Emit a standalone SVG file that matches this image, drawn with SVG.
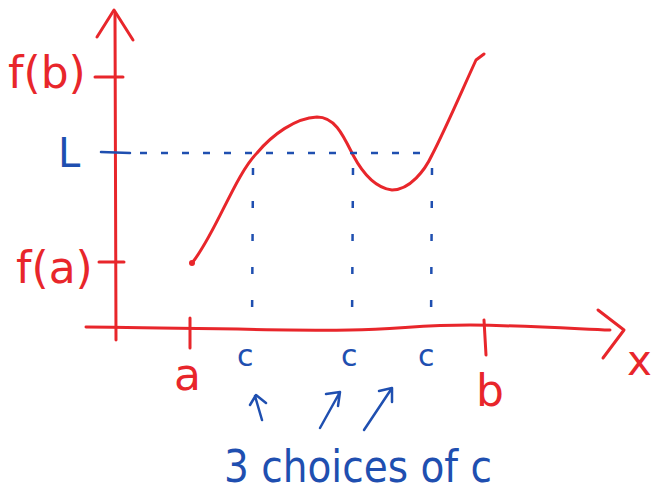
<svg xmlns="http://www.w3.org/2000/svg" width="660" height="492" viewBox="0 0 660 492">
<style>
.r{stroke:#e8262b;fill:none;stroke-width:3;stroke-linecap:round;stroke-linejoin:round}
.b{stroke:#1f4fb0;fill:none;stroke-width:2.5;stroke-linecap:round;stroke-linejoin:round}
.dh{stroke:#1f4fb0;fill:none;stroke-width:2.5;stroke-dasharray:7 14}
.dv{stroke:#1f4fb0;fill:none;stroke-width:2.5;stroke-dasharray:7 26}
.tr{fill:#e8262b;font-family:"DejaVu Sans",sans-serif}
.tb{fill:#1f4fb0;font-family:"DejaVu Sans",sans-serif}
</style>
<rect width="660" height="492" fill="#fff"/>
<g id="axes">
<path class="r" d="M115,14 L116,340"/>
<path class="r" d="M97,37 L114,10 L133,40"/>
<path class="r" d="M86,327 C200,328 300,331 350,330 C400,329 420,325 470,325 C540,326 580,329 610,330"/>
<path class="r" d="M598,310 L624,330 L603,358"/>
<path class="r" d="M95,77 L123,77"/>
<path class="r" d="M99,262 L124,262"/>
<path class="r" d="M190,318 L190,348"/>
<path class="r" d="M484,320 L486,355"/>
<path class="b" d="M101,152 L130,153"/>
</g>
<g id="curve">
<path class="r" d="M192,263 C215,235 235,175 257,153 C272,135 295,118 317,117 C335,117 343,135 353,155 C362,172 375,188 392,190 C410,190 425,170 432,155 C445,130 460,95 476,60 L484,54"/>
<circle cx="192" cy="263" r="3" fill="#e8262b"/>
</g>
<g id="connectors">
<path class="dh" d="M140,153 L432,153"/>
<path class="dv" d="M253,168 L252,327"/>
<path class="dv" d="M353,168 L352,327"/>
<path class="dv" d="M432,168 L431,327"/>
</g>
<g id="labels">
<text class="tr" x="8" y="88" font-size="44">f(b)</text>
<text class="tb" x="58" y="167" font-size="40">L</text>
<text class="tr" x="16" y="283" font-size="44">f(a)</text>
<text class="tr" x="174" y="390" font-size="44">a</text>
<text class="tr" x="476" y="406" font-size="44">b</text>
<text class="tr" x="627" y="375" font-size="42">x</text>
<text class="tb" x="237" y="366" font-size="30">c</text>
<text class="tb" x="341" y="366" font-size="30">c</text>
<text class="tb" x="418" y="366" font-size="30">c</text>
<text class="tb" x="224" y="482" font-size="44" textLength="268" lengthAdjust="spacingAndGlyphs">3 choices of c</text>
</g>
<g id="arrows">
<path class="b" d="M262,420 L255,396 M250,405 L256,395 L266,403"/>
<path class="b" d="M320,428 L340,392 M326,394 L340,392 L338,406"/>
<path class="b" d="M364,430 L392,388 M379,391 L392,388 L392,402"/>
</g>
</svg>
